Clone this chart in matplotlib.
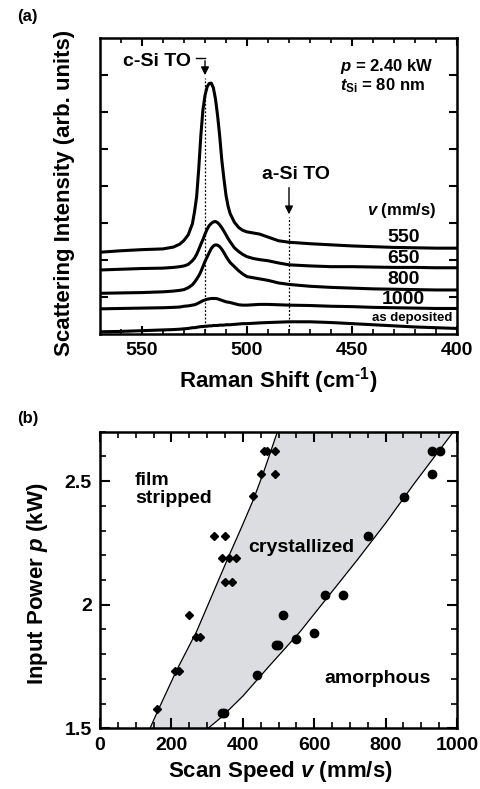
import matplotlib
matplotlib.use("Agg")
import matplotlib.pyplot as plt
import numpy as np

plt.rcParams['font.family'] = ['Liberation Sans', 'DejaVu Sans']
plt.rcParams['font.weight'] = 'bold'
plt.rcParams['mathtext.fontset'] = 'custom'
plt.rcParams['mathtext.rm'] = 'Liberation Sans:bold'
plt.rcParams['mathtext.it'] = 'Liberation Sans:italic:bold'
plt.rcParams['mathtext.bf'] = 'Liberation Sans:bold'

# ---------------- Panel (a) data: Raman spectra ----------------
raman_shift = [570, 560, 550, 540, 535, 532, 530, 528, 526, 525, 524, 523, 522, 521,
               520, 519, 518, 517, 516, 515, 514, 513, 512, 511, 510, 509, 508, 506,
               504, 502, 500, 497, 494, 490, 485, 480, 470, 460, 450, 440, 430, 420,
               410, 400]
spec_550 = [2.21, 2.25, 2.28, 2.30, 2.35, 2.43, 2.53, 2.68, 2.98, 3.30, 3.70, 4.45, 5.35, 6.05,
            6.45, 6.68, 6.77, 6.78, 6.65, 6.35, 5.90, 5.35, 4.70, 4.20, 3.75, 3.45, 3.25, 3.02,
            2.88, 2.80, 2.76, 2.73, 2.70, 2.62, 2.52, 2.48, 2.44, 2.41, 2.38, 2.36, 2.34, 2.33,
            2.32, 2.32]
spec_650 = [1.73, 1.75, 1.77, 1.78, 1.80, 1.82, 1.84, 1.88, 1.98, 2.05, 2.15, 2.28, 2.42, 2.55,
            2.70, 2.83, 2.93, 2.99, 3.03, 3.04, 3.01, 2.95, 2.87, 2.78, 2.68, 2.58, 2.49, 2.33,
            2.23, 2.15, 2.09, 2.04, 2.01, 1.98, 1.92, 1.87, 1.84, 1.82, 1.82, 1.81, 1.80, 1.80,
            1.79, 1.79]
spec_800 = [1.10, 1.11, 1.12, 1.14, 1.16, 1.18, 1.20, 1.25, 1.33, 1.40, 1.48, 1.57, 1.68, 1.82,
            1.96, 2.08, 2.20, 2.31, 2.38, 2.41, 2.40, 2.36, 2.29, 2.20, 2.10, 2.01, 1.93, 1.82,
            1.71, 1.62, 1.55, 1.52, 1.49, 1.45, 1.38, 1.34, 1.29, 1.26, 1.24, 1.22, 1.21, 1.20,
            1.19, 1.19]
spec_1000 = [0.68, 0.69, 0.70, 0.71, 0.72, 0.73, 0.75, 0.76, 0.78, 0.79, 0.81, 0.84, 0.87, 0.90,
             0.92, 0.94, 0.95, 0.96, 0.96, 0.96, 0.95, 0.93, 0.91, 0.89, 0.87, 0.86, 0.85, 0.82,
             0.79, 0.78, 0.78, 0.79, 0.80, 0.80, 0.79, 0.78, 0.77, 0.75, 0.74, 0.72, 0.71, 0.70,
             0.69, 0.69]
spec_asdep = [0.06, 0.07, 0.09, 0.11, 0.12, 0.13, 0.14, 0.15, 0.17, 0.17, 0.18, 0.19, 0.20, 0.20,
              0.21, 0.21, 0.22, 0.22, 0.23, 0.23, 0.23, 0.24, 0.24, 0.24, 0.25, 0.25, 0.25, 0.26,
              0.27, 0.28, 0.28, 0.29, 0.30, 0.31, 0.32, 0.33, 0.33, 0.31, 0.28, 0.25, 0.22, 0.19,
              0.17, 0.15]
speed_labels = ['550', '650', '800', '1000', 'as deposited']
speed_label_y = [2.60, 2.04, 1.47, 0.93, 0.42]
cSi_TO = 520
aSi_TO = 480

# ---------------- Panel (b) data: process window ----------------
stripped_v = [159, 210, 221, 250, 270, 280, 320, 350, 341, 361, 381, 350, 371, 429, 451, 490,
              458, 467, 490]
stripped_p = [1.58, 1.73, 1.73, 1.96, 1.87, 1.87, 2.28, 2.28, 2.19, 2.19, 2.19, 2.09, 2.09,
              2.44, 2.53, 2.53, 2.62, 2.62, 2.62]
amorph_v = [342, 348, 439, 493, 499, 512, 549, 599, 630, 680, 752, 852, 931, 931, 952]
amorph_p = [1.56, 1.56, 1.715, 1.835, 1.835, 1.96, 1.86, 1.885, 2.04, 2.04, 2.28, 2.435,
            2.53, 2.62, 2.62]
upper_bound_v = [140, 163, 215, 270, 313, 360, 397, 429, 457, 476, 497]
upper_bound_p = [1.50, 1.574, 1.736, 1.89, 2.035, 2.194, 2.315, 2.423, 2.531, 2.611, 2.70]
lower_bound_v = [303, 340, 400, 476, 560, 640, 720, 800, 880, 990]
lower_bound_p = [1.50, 1.545, 1.63, 1.755, 1.89, 2.035, 2.18, 2.33, 2.49, 2.70]

W, H = 481, 789
fig = plt.figure(figsize=(W / 100, H / 100), dpi=100)

def px(x0, y0, x1, y1):
    return [x0 / W, 1 - y1 / H, (x1 - x0) / W, (y1 - y0) / H]

# ====== Panel (a) ======
axA = fig.add_axes(px(100, 38, 457, 334))
for s in [spec_550, spec_650, spec_800, spec_1000, spec_asdep]:
    axA.plot(raman_shift, s, color='black', lw=2.2, solid_joinstyle='round')
axA.set_xlim(570, 400)
axA.set_ylim(0, 8)
axA.set_xticks([550, 500, 450, 400])
axA.set_xticks(np.arange(560, 399, -10), minor=True)
axA.set_yticks(range(1, 8))
axA.set_yticklabels([])
axA.tick_params(axis='both', which='major', direction='in', length=6, width=1.5,
                top=True, right=True, labelsize=14, pad=6)
axA.tick_params(axis='both', which='minor', direction='in', length=3.5, width=1.2,
                top=True, right=True)
for sp in axA.spines.values():
    sp.set_linewidth(1.8)

# dotted reference lines and arrows
axA.plot([cSi_TO, cSi_TO], [0, 6.92], ls=(0, (1.5, 1.5)), color='black', lw=0.9)
axA.plot([aSi_TO, aSi_TO], [0, 3.16], ls=(0, (1.5, 1.5)), color='black', lw=0.9)
axA.plot([524.5, cSi_TO], [7.45, 7.45], color='black', lw=1.0)
axA.annotate('', xy=(cSi_TO, 6.92), xytext=(cSi_TO, 7.46),
             arrowprops=dict(arrowstyle='-|>', color='black', lw=1.0, mutation_scale=12))
axA.annotate('', xy=(aSi_TO, 3.16), xytext=(aSi_TO, 4.03),
             arrowprops=dict(arrowstyle='-|>', color='black', lw=1.0, mutation_scale=12))
axA.text(526.5, 7.36, 'c-Si TO', ha='right', va='center', fontsize=14, fontweight='bold')
axA.text(476.5, 4.32, 'a-Si TO', ha='center', va='center', fontsize=14, fontweight='bold')
axA.text(455.5, 7.22, r'$p$ = 2.40 kW', ha='left', va='center', fontsize=12)
axA.text(455.5, 6.72, r'$t_{\mathrm{Si}}$ = 80 nm', ha='left', va='center', fontsize=12)
axA.text(409.5, 3.35, r'$v$ (mm/s)', ha='right', va='center', fontsize=12)
for lab, yy in zip(speed_labels, speed_label_y):
    if lab == 'as deposited':
        axA.text(421.5, yy, lab, ha='center', va='center', fontsize=9.5, fontweight='bold')
    else:
        axA.text(425.5, yy, lab, ha='center', va='center', fontsize=14, fontweight='bold')

fig.text(65 / W, 1 - 193 / H, 'Scattering Intensity (arb. units)', rotation=90,
         ha='center', va='center', fontsize=16, fontweight='bold')
fig.text(278 / W, 1 - 381 / H, r'Raman Shift (cm$^{\text{-1}}$)', ha='center', va='center',
         fontsize=16, fontweight='bold')
fig.text(17 / W, 1 - 16 / H, '(a)', ha='left', va='center', fontsize=12, fontweight='bold')

# ====== Panel (b) ======
axB = fig.add_axes(px(100, 431.7, 457, 728.3))
fill_v = upper_bound_v + lower_bound_v[::-1]
fill_p = upper_bound_p + lower_bound_p[::-1]
axB.fill(fill_v, fill_p, color='#dcdde0', lw=0, zorder=1)
axB.plot(upper_bound_v, upper_bound_p, color='black', lw=0.9, zorder=2)
axB.plot(lower_bound_v, lower_bound_p, color='black', lw=0.9, zorder=2)
axB.plot(stripped_v, stripped_p, ls='none', marker='D', ms=4.3, color='black', zorder=3)
axB.plot(amorph_v, amorph_p, ls='none', marker='o', ms=6, color='black', zorder=3)
axB.set_xlim(0, 1000)
axB.set_ylim(1.5, 2.7)
axB.set_xticks([0, 200, 400, 600, 800, 1000])
axB.set_xticks(np.arange(0, 1001, 50), minor=True)
axB.set_yticks([1.5, 2.0, 2.5])
axB.set_yticklabels(['1.5', '2', '2.5'])
axB.set_yticks(np.arange(1.5, 2.71, 0.1), minor=True)
axB.tick_params(axis='both', which='major', direction='in', length=7, width=1.5,
                top=True, right=True, labelsize=14, pad=6)
axB.tick_params(axis='both', which='minor', direction='in', length=4, width=1.2,
                top=True, right=True)
for sp in axB.spines.values():
    sp.set_linewidth(1.8)
    sp.set_zorder(5)

axB.text(98, 2.467, 'film\nstripped', ha='left', va='center', fontsize=14,
         fontweight='bold', linespacing=1.05)
axB.text(563, 2.233, 'crystallized', ha='center', va='center', fontsize=14, fontweight='bold')
axB.text(777, 1.703, 'amorphous', ha='center', va='center', fontsize=14, fontweight='bold')

fig.text(38 / W, 1 - 584 / H, r'Input Power $p$ (kW)', rotation=90, ha='center',
         va='center', fontsize=16, fontweight='bold')
fig.text(280 / W, 1 - 771 / H, r'Scan Speed $v$ (mm/s)', ha='center', va='center',
         fontsize=16, fontweight='bold')
fig.text(17 / W, 1 - 418 / H, '(b)', ha='left', va='center', fontsize=12, fontweight='bold')

fig.savefig('out.png', dpi=100)
